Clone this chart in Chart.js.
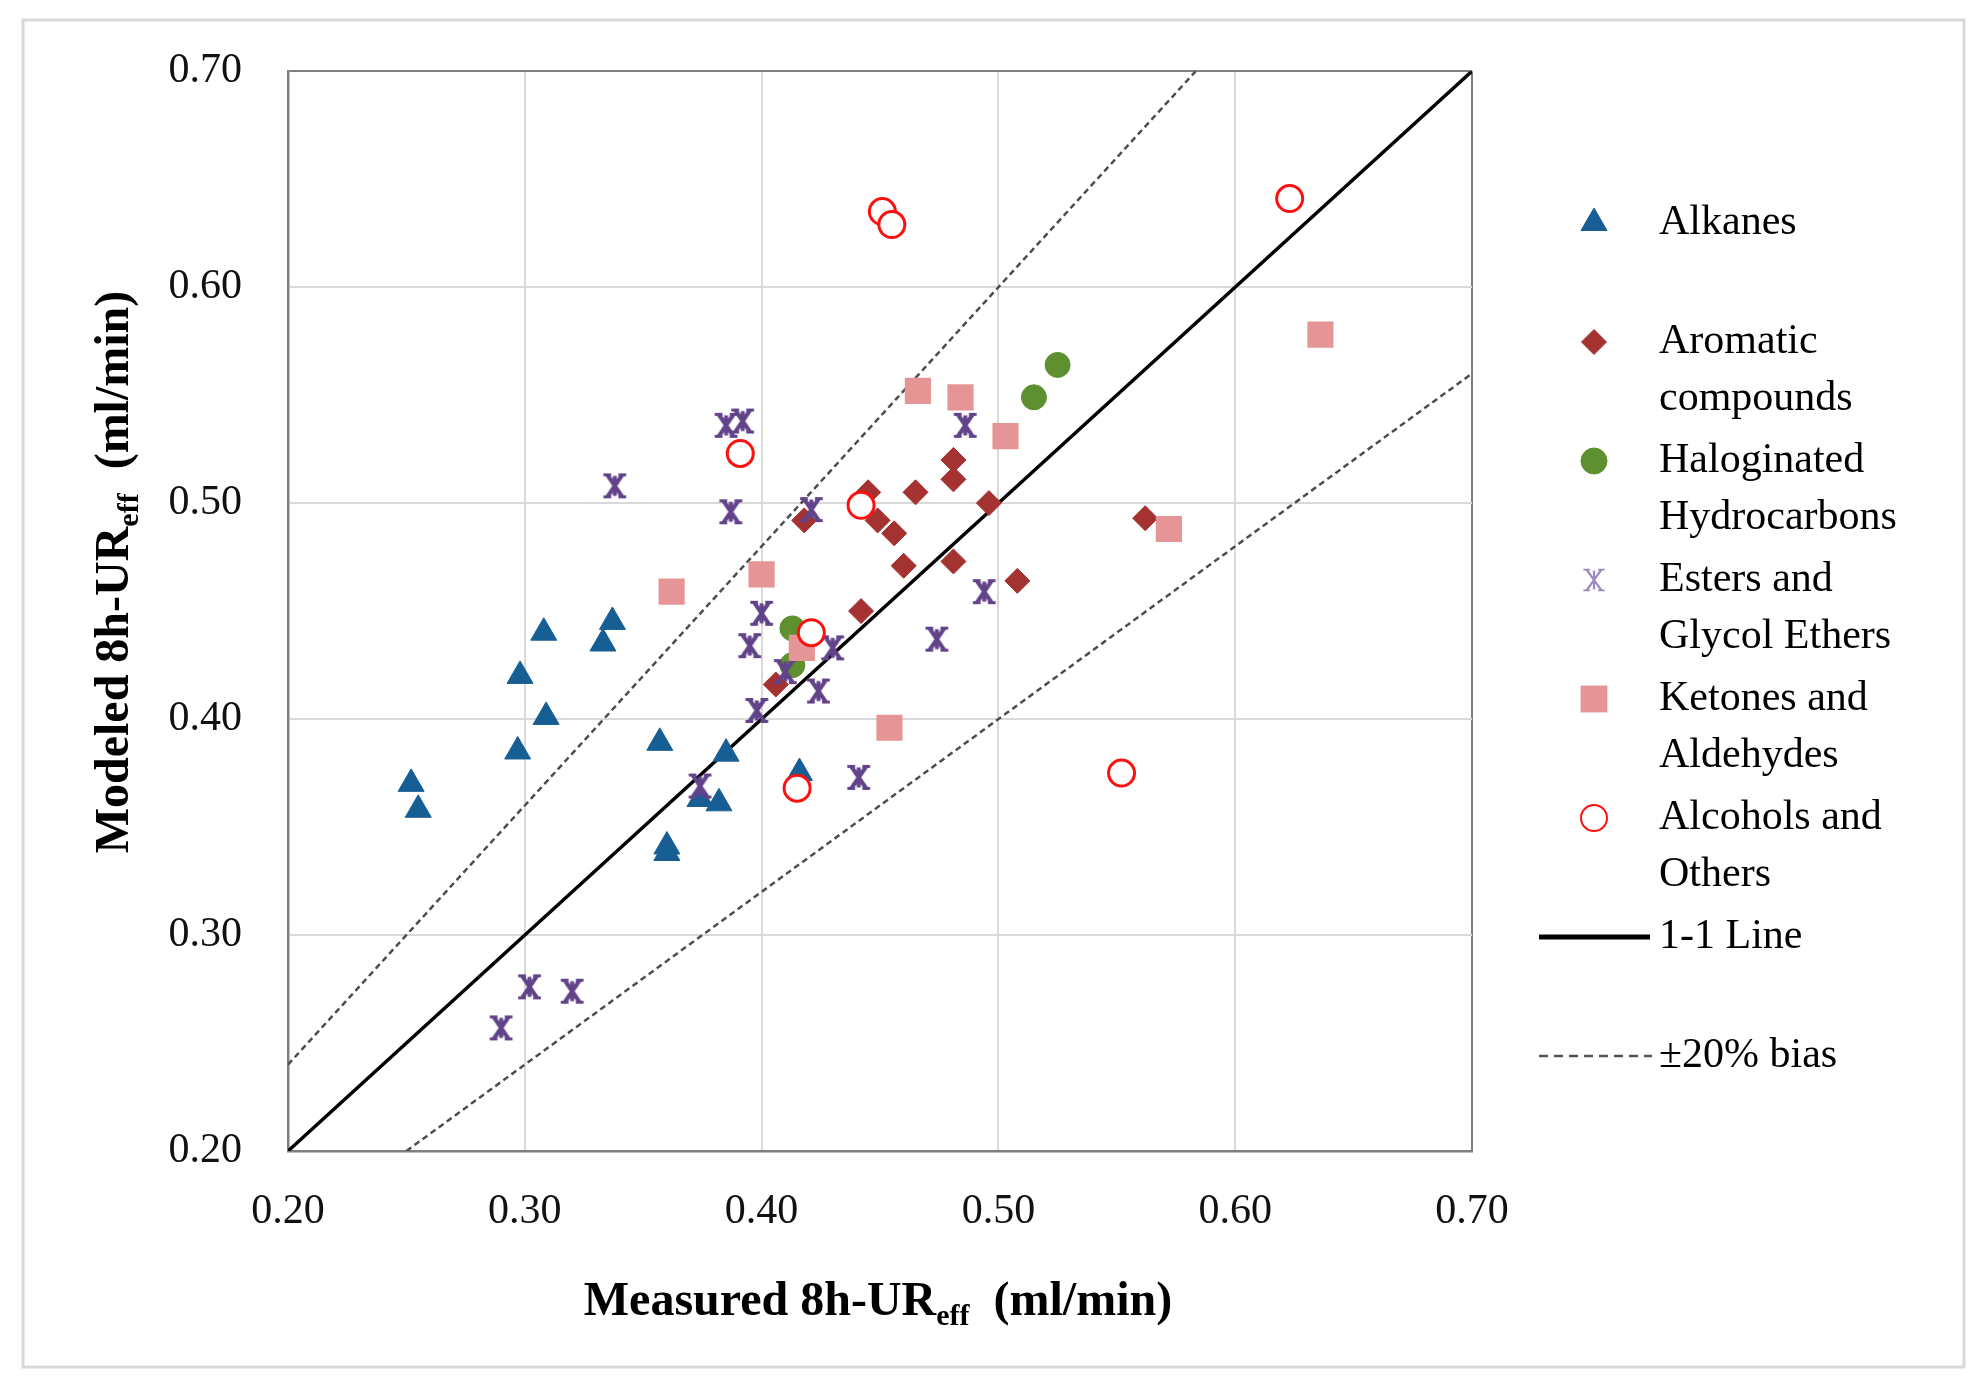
<!DOCTYPE html>
<html>
<head>
<meta charset="utf-8">
<script src="https://cdn.jsdelivr.net/npm/chart.js@4.4.1/dist/chart.umd.min.js"></script>
<style>
  html, body { margin: 0; padding: 0; background: #ffffff; }
  #wrap { width: 1981px; height: 1391px; position: relative; }
</style>
</head>
<body>
<div id="wrap"><canvas id="c" width="1981" height="1391"></canvas></div>
<script>
// ---------------- DATA ----------------
const seriesNames = ['Alkanes', 'Aromatic\ncompounds', 'Haloginated\nHydrocarbons', 'Esters and\nGlycol Ethers', 'Ketones and\nAldehydes', 'Alcohols and\nOthers'];
const lineNames = ['1-1 Line', '\u00B120% bias'];

const alkanesX = [0.252, 0.255, 0.297, 0.298, 0.308, 0.309, 0.333, 0.337, 0.357, 0.360, 0.360, 0.374, 0.382, 0.385, 0.416];
const alkanesY = [0.370, 0.358, 0.385, 0.420, 0.440, 0.401, 0.435, 0.445, 0.389, 0.341, 0.338, 0.363, 0.361, 0.384, 0.375];

const aromaticX = [0.481, 0.481, 0.465, 0.445, 0.496, 0.449, 0.456, 0.460, 0.481, 0.508, 0.562, 0.418, 0.442, 0.406];
const aromaticY = [0.520, 0.511, 0.505, 0.505, 0.500, 0.492, 0.486, 0.471, 0.473, 0.464, 0.493, 0.492, 0.450, 0.416];

const halogX = [0.413, 0.413, 0.515, 0.525];
const halogY = [0.442, 0.425, 0.549, 0.564];

const estersX = [0.385, 0.392, 0.338, 0.387, 0.421, 0.400, 0.395, 0.430, 0.410, 0.424, 0.398, 0.374, 0.441, 0.302, 0.320, 0.290, 0.486, 0.494, 0.474];
const estersY = [0.536, 0.538, 0.508, 0.496, 0.497, 0.449, 0.434, 0.433, 0.422, 0.413, 0.404, 0.369, 0.373, 0.276, 0.274, 0.257, 0.536, 0.459, 0.437];

const ketonesX = [0.362, 0.400, 0.417, 0.466, 0.484, 0.503, 0.636, 0.572, 0.454];
const ketonesY = [0.459, 0.467, 0.433, 0.552, 0.549, 0.531, 0.578, 0.488, 0.396];

const alcoholsX = [0.451, 0.455, 0.623, 0.442, 0.391, 0.421, 0.415, 0.552];
const alcoholsY = [0.635, 0.629, 0.641, 0.499, 0.523, 0.440, 0.368, 0.375];

const oneToOneX = [0.20, 0.70];
const biasUpperX = [0.20, 0.70 / 1.2];
const biasLowerX = [0.20 / 0.8, 0.70];
const biasFactor = 0.20;

const tickValues = [0.20, 0.30, 0.40, 0.50, 0.60, 0.70];

// ---------------- HELPERS ----------------
function pts(xs, ys) { return xs.map((x, i) => ({ x: x, y: ys[i] })); }

function makeStar(size, color, lw, footLen) {
  const cv = document.createElement('canvas');
  cv.width = size; cv.height = size;
  const g = cv.getContext('2d');
  g.strokeStyle = color; g.lineWidth = lw; g.lineCap = 'butt';
  const m = lw / 2 + 0.5, s = size - m, c = size / 2;
  const a = m + footLen * 0.5, b = s - footLen * 0.5;
  g.beginPath();
  g.moveTo(a, m); g.lineTo(b, s);
  g.moveTo(b, m); g.lineTo(a, s);
  g.moveTo(c, m + 1); g.lineTo(c, s - 1);
  g.stroke();
  g.lineWidth = lw * 0.8;
  g.beginPath();
  g.moveTo(a - footLen * 0.55, m); g.lineTo(a + footLen * 0.55, m);
  g.moveTo(b - footLen * 0.55, m); g.lineTo(b + footLen * 0.55, m);
  g.moveTo(a - footLen * 0.55, s); g.lineTo(a + footLen * 0.55, s);
  g.moveTo(b - footLen * 0.55, s); g.lineTo(b + footLen * 0.55, s);
  g.stroke();
  return cv;
}

const colors = {
  alk: '#175E94', aro: '#A33230', hal: '#5F902F', est: '#62438A', ket: '#E59596', alc: '#FF1010'
};
const starPlot = makeStar(27, colors.est, 4, 7);
const starLegend = makeStar(24, '#9C88BC', 2.2, 6);

const FONT = '"Liberation Serif", "Times New Roman", serif';

// ---------------- PLUGINS ----------------
function drawRich(ctx, parts, x, y) {
  let total = 0;
  parts.forEach(p => { ctx.font = p.f; p.w = ctx.measureText(p.t).width; total += p.w; });
  let cx = x - total / 2;
  ctx.textAlign = 'left';
  ctx.textBaseline = 'alphabetic';
  parts.forEach(p => { ctx.font = p.f; ctx.fillText(p.t, cx, y + (p.dy || 0)); cx += p.w; });
}

const decorPlugin = {
  id: 'decor',
  beforeDraw(chart) {
    const ctx = chart.ctx;
    ctx.save();
    ctx.fillStyle = '#ffffff';
    ctx.fillRect(0, 0, chart.width, chart.height);
    ctx.strokeStyle = '#D9D9D9';
    ctx.lineWidth = 3;
    ctx.strokeRect(23, 20, 1941, 1347);
    ctx.restore();
  },
  afterDraw(chart) {
    const ctx = chart.ctx;
    const ca = chart.chartArea;
    ctx.save();
    ctx.fillStyle = '#000';
    const big = 'bold 48px ' + FONT, sub = 'bold 30px ' + FONT;
    drawRich(ctx, [
      { t: 'Measured 8h-UR', f: big },
      { t: 'eff', f: sub, dy: 10 },
      { t: '  (ml/min)', f: big }
    ], (ca.left + ca.right) / 2 - 2, 1315);
    ctx.save();
    ctx.translate(128, 572);
    ctx.rotate(-Math.PI / 2);
    drawRich(ctx, [
      { t: 'Modeled 8h-UR', f: big },
      { t: 'eff', f: sub, dy: 10 },
      { t: '  (ml/min)', f: big }
    ], 0, 0);
    ctx.restore();

    // Legend
    const mx = 1594, tx = 1659, y0 = 223, step = 119, lh = 57;
    ctx.textAlign = 'left';
    ctx.textBaseline = 'middle';
    const metas = chart.data.datasets;
    for (let i = 0; i < seriesNames.length; i++) {
      const ds = metas[i];
      const y = y0 + step * i;
      ctx.save();
      ctx.fillStyle = ds.backgroundColor;
      ctx.strokeStyle = ds.borderColor;
      ctx.lineWidth = ds.legendBorderWidth;
      Chart.helpers.drawPoint(ctx, {
        pointStyle: ds.legendStyle || ds.pointStyle,
        radius: ds.legendRadius,
        rotation: 0,
        borderWidth: ds.legendBorderWidth
      }, mx, y);
      ctx.restore();
      ctx.fillStyle = '#000';
      ctx.font = '42px ' + FONT;
      seriesNames[i].split('\n').forEach((ln, k) => ctx.fillText(ln, tx, y + k * lh));
    }
    const ly1 = y0 + step * 6, ly2 = y0 + step * 7;
    ctx.strokeStyle = '#000'; ctx.lineWidth = 5; ctx.setLineDash([]);
    ctx.beginPath(); ctx.moveTo(1539, ly1); ctx.lineTo(1650, ly1); ctx.stroke();
    ctx.fillText(lineNames[0], tx, ly1);
    ctx.strokeStyle = '#555'; ctx.lineWidth = 2.5; ctx.setLineDash([9, 6]);
    ctx.beginPath(); ctx.moveTo(1539, ly2); ctx.lineTo(1652, ly2); ctx.stroke();
    ctx.setLineDash([]);
    ctx.fillText(lineNames[1], tx, ly2);
    ctx.restore();
  }
};

// ---------------- CHART ----------------
const gridColor = (c) => (c.tick && c.tick.value > 0.695) ? '#7F7F7F' : '#D9D9D9';

new Chart(document.getElementById('c'), {
  type: 'scatter',
  data: {
    datasets: [
      { label: seriesNames[0], data: pts(alkanesX, alkanesY), pointStyle: 'triangle', pointRadius: 15,
        backgroundColor: colors.alk, borderColor: colors.alk, borderWidth: 1, order: 6,
        legendRadius: 15, legendBorderWidth: 1 },
      { label: seriesNames[1], data: pts(aromaticX, aromaticY), pointStyle: 'rectRot', pointRadius: 12.5,
        backgroundColor: colors.aro, borderColor: colors.aro, borderWidth: 1, order: 5,
        legendRadius: 12.5, legendBorderWidth: 1 },
      { label: seriesNames[2], data: pts(halogX, halogY), pointStyle: 'circle', pointRadius: 12.5,
        backgroundColor: colors.hal, borderColor: colors.hal, borderWidth: 1, order: 4,
        legendRadius: 13, legendBorderWidth: 1 },
      { label: seriesNames[3], data: pts(estersX, estersY), pointStyle: starPlot, pointRadius: 13,
        backgroundColor: colors.est, borderColor: colors.est, borderWidth: 0, order: 3,
        legendStyle: starLegend, legendRadius: 12, legendBorderWidth: 0 },
      { label: seriesNames[4], data: pts(ketonesX, ketonesY), pointStyle: 'rect', pointRadius: 18.5,
        backgroundColor: colors.ket, borderColor: colors.ket, borderWidth: 0, order: 2,
        legendRadius: 19, legendBorderWidth: 0 },
      { label: seriesNames[5], data: pts(alcoholsX, alcoholsY), pointStyle: 'circle', pointRadius: 13,
        backgroundColor: '#ffffff', borderColor: colors.alc, borderWidth: 3, order: 1,
        legendRadius: 13, legendBorderWidth: 2 },
      { type: 'line', label: lineNames[0], data: oneToOneX.map(x => ({ x: x, y: x })),
        borderColor: '#000', borderWidth: 3.5, pointRadius: 0, fill: false, order: 7 },
      { type: 'line', label: lineNames[1], data: biasUpperX.map(x => ({ x: x, y: x * (1 + biasFactor) })),
        borderColor: '#4D4D4D', borderWidth: 2.5, borderDash: [6, 4], pointRadius: 0, fill: false, order: 8 },
      { type: 'line', label: lineNames[1], data: biasLowerX.map(x => ({ x: x, y: x * (1 - biasFactor) })),
        borderColor: '#4D4D4D', borderWidth: 2.5, borderDash: [6, 4], pointRadius: 0, fill: false, order: 9 }
    ]
  },
  options: {
    responsive: false,
    devicePixelRatio: 1,
    animation: false,
    layout: { padding: { top: 67, right: 509, bottom: 0, left: 0 } },
    plugins: { legend: { display: false }, tooltip: { enabled: false } },
    elements: { line: { tension: 0 } },
    scales: {
      x: {
        type: 'linear', min: 0.2, max: 0.7,
        afterBuildTicks: (s) => { s.ticks = tickValues.map(v => ({ value: v })); },
        afterFit: (s) => { s.height = 240; },
        ticks: { callback: (v) => Number(v).toFixed(2), font: { family: FONT, size: 42 }, color: '#111', padding: 36, maxRotation: 0 },
        grid: { color: gridColor, lineWidth: 2, drawTicks: false },
        border: { display: true, color: '#7F7F7F', width: 2.5 }
      },
      y: {
        type: 'linear', min: 0.2, max: 0.7,
        afterBuildTicks: (s) => { s.ticks = tickValues.map(v => ({ value: v })); },
        afterFit: (s) => { s.width = 288; },
        ticks: { callback: (v) => Number(v).toFixed(2), font: { family: FONT, size: 42 }, color: '#111', padding: 46 },
        grid: { color: gridColor, lineWidth: 2, drawTicks: false },
        border: { display: true, color: '#7F7F7F', width: 2.5 }
      }
    }
  },
  plugins: [decorPlugin]
});
</script>
</body>
</html>
